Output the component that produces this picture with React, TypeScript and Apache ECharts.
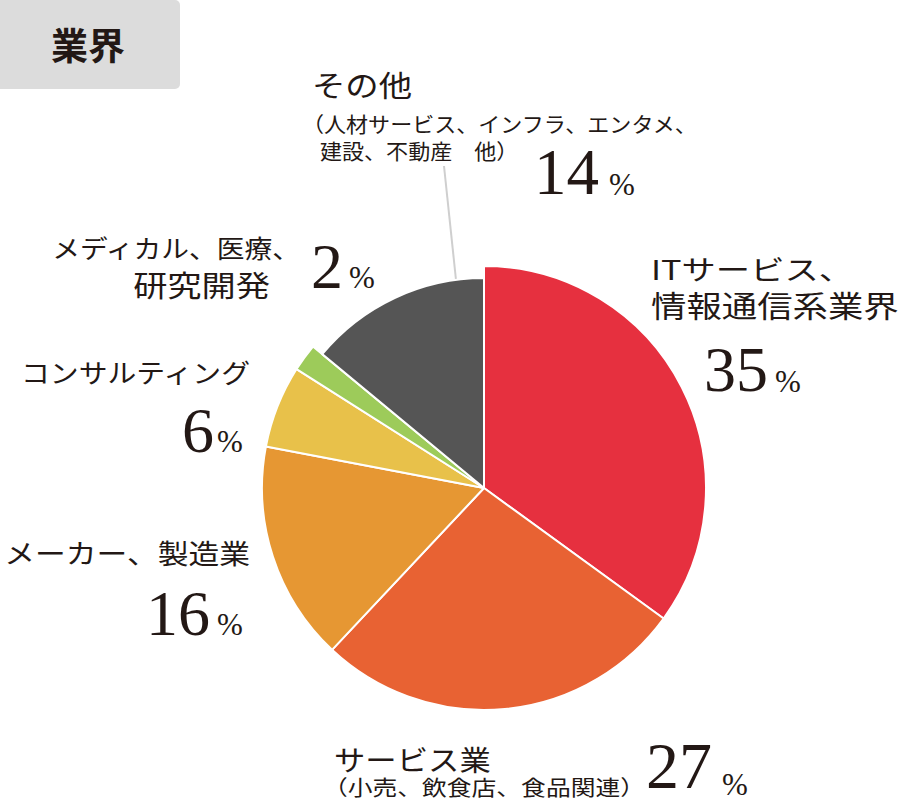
import React, { useEffect, useRef } from "react";
import * as echarts from "echarts";

const categories = [
  "ITサービス、情報通信系業界",
  "サービス業（小売、飲食店、食品関連）",
  "メーカー、製造業",
  "コンサルティング",
  "メディカル、医療、研究開発",
  "その他（人材サービス、インフラ、エンタメ、建設、不動産 他）",
];
const values = [35, 27, 16, 6, 2, 14];
const colors = ["#e6303f", "#e86233", "#e69733", "#e8c14a", "#9dcb5a", "#555555"];
const smallSliceIndex = 5; // "その他" drawn with smaller radius

// label text lines per category
const labelLines: string[][] = [
  ["ITサービス、", "情報通信系業界"],
  ["サービス業", "（小売、飲食店、食品関連）"],
  ["メーカー、製造業"],
  ["コンサルティング"],
  ["メディカル、医療、", "研究開発"],
  ["その他", "（人材サービス、インフラ、エンタメ、", "建設、不動産　他）"],
];

// layout (positions / sizes) of label pieces
type LineLayout = { x: number; y: number; size: number; align: "left" | "right"; sx: number };
const lineLayout: LineLayout[][] = [
  [
    { x: 651, y: 268, size: 27, align: "left", sx: 1.27 },
    { x: 651, y: 304, size: 30, align: "left", sx: 1.18 },
  ],
  [
    { x: 334, y: 759, size: 28, align: "left", sx: 1.12 },
    { x: 323, y: 786, size: 21, align: "left", sx: 1.18 },
  ],
  [{ x: 250, y: 552, size: 27, align: "right", sx: 1.14 }],
  [{ x: 250, y: 372, size: 26, align: "right", sx: 1.11 }],
  [
    { x: 300, y: 247, size: 25, align: "right", sx: 1.11 },
    { x: 270, y: 284, size: 29, align: "right", sx: 1.18 },
  ],
  [
    { x: 312, y: 84, size: 29, align: "left", sx: 1.15 },
    { x: 302, y: 123, size: 21, align: "left", sx: 1.05 },
    { x: 320, y: 150, size: 21, align: "left", sx: 1.05 },
  ],
];
type NumLayout = { x: number; y: number; size: number; px: number; py: number; psize: number };
const numLayout: NumLayout[] = [
  { x: 704, y: 369, size: 64, px: 775, py: 381, psize: 31 },
  { x: 646, y: 765, size: 66, px: 722, py: 784, psize: 31 },
  { x: 146, y: 613, size: 64, px: 217, py: 624, psize: 31 },
  { x: 182, y: 430, size: 64, px: 217, py: 441, psize: 31 },
  { x: 311, y: 266, size: 64, px: 349, py: 277, psize: 31 },
  { x: 534, y: 172, size: 65, px: 609, py: 184, psize: 31 },
];

const TEXT = "#231815";
const JP = '"Noto Sans CJK JP", sans-serif';
const SERIF = '"Liberation Serif", "DejaVu Serif", serif';

export default function App() {
  const ref = useRef<HTMLDivElement>(null);
  useEffect(() => {
    if (!ref.current) return;
    const chart = echarts.init(ref.current, null, { renderer: "svg" });

    const outerData = values.map((v, i) => ({
      value: v,
      name: categories[i],
      itemStyle:
        i === smallSliceIndex
          ? { color: "rgba(0,0,0,0)", borderWidth: 0 }
          : { color: colors[i], borderColor: "#fff", borderWidth: 2 },
    }));
    const innerData = values.map((v, i) => ({
      value: v,
      name: categories[i],
      itemStyle:
        i === smallSliceIndex
          ? { color: colors[i], borderColor: "#fff", borderWidth: 2 }
          : { color: "rgba(0,0,0,0)", borderWidth: 0 },
    }));

    const graphics: any[] = [
      {
        type: "rect",
        shape: { x: -6, y: 0, width: 186, height: 89, r: 5 },
        style: { fill: "#dcdcdc" },
      },
      {
        type: "text",
        x: 88,
        y: 44,
        style: {
          text: "業界",
          font: `bold 37px ${JP}`,
          fill: TEXT,
          align: "center",
          verticalAlign: "middle",
        },
      },
      {
        type: "line",
        shape: { x1: 456, y1: 280, x2: 444, y2: 166 },
        style: { stroke: "#cfcfcf", lineWidth: 2 },
      },
    ];

    labelLines.forEach((lines, i) => {
      lines.forEach((t, j) => {
        const l = lineLayout[i][j];
        graphics.push({
          type: "text",
          x: l.x,
          y: l.y,
          scaleX: l.sx,
          style: {
            text: t,
            font: `${l.size}px ${JP}`,
            fill: TEXT,
            align: l.align,
            verticalAlign: "middle",
          },
        });
      });
      const n = numLayout[i];
      graphics.push({
        type: "text",
        x: n.x,
        y: n.y,
        style: {
          text: String(values[i]),
          font: `${n.size}px ${SERIF}`,
          fill: TEXT,
          align: "left",
          verticalAlign: "middle",
        },
      });
      graphics.push({
        type: "text",
        x: n.px,
        y: n.py,
        style: {
          text: "%",
          font: `${n.psize}px ${SERIF}`,
          fill: TEXT,
          align: "left",
          verticalAlign: "middle",
        },
      });
    });

    chart.setOption({
      animation: false,
      backgroundColor: "#ffffff",
      series: [
        {
          type: "pie",
          center: [484, 488],
          radius: 222,
          startAngle: 90,
          clockwise: true,
          silent: true,
          label: { show: false },
          labelLine: { show: false },
          data: outerData,
        },
        {
          type: "pie",
          center: [484, 488],
          radius: 210,
          startAngle: 90,
          clockwise: true,
          silent: true,
          label: { show: false },
          labelLine: { show: false },
          data: innerData,
        },
      ],
      graphic: graphics,
    });
    return () => chart.dispose();
  }, []);
  return (
    <div
      ref={ref}
      style={{ position: "absolute", left: 0, top: 0, width: 904, height: 803 }}
    />
  );
}
